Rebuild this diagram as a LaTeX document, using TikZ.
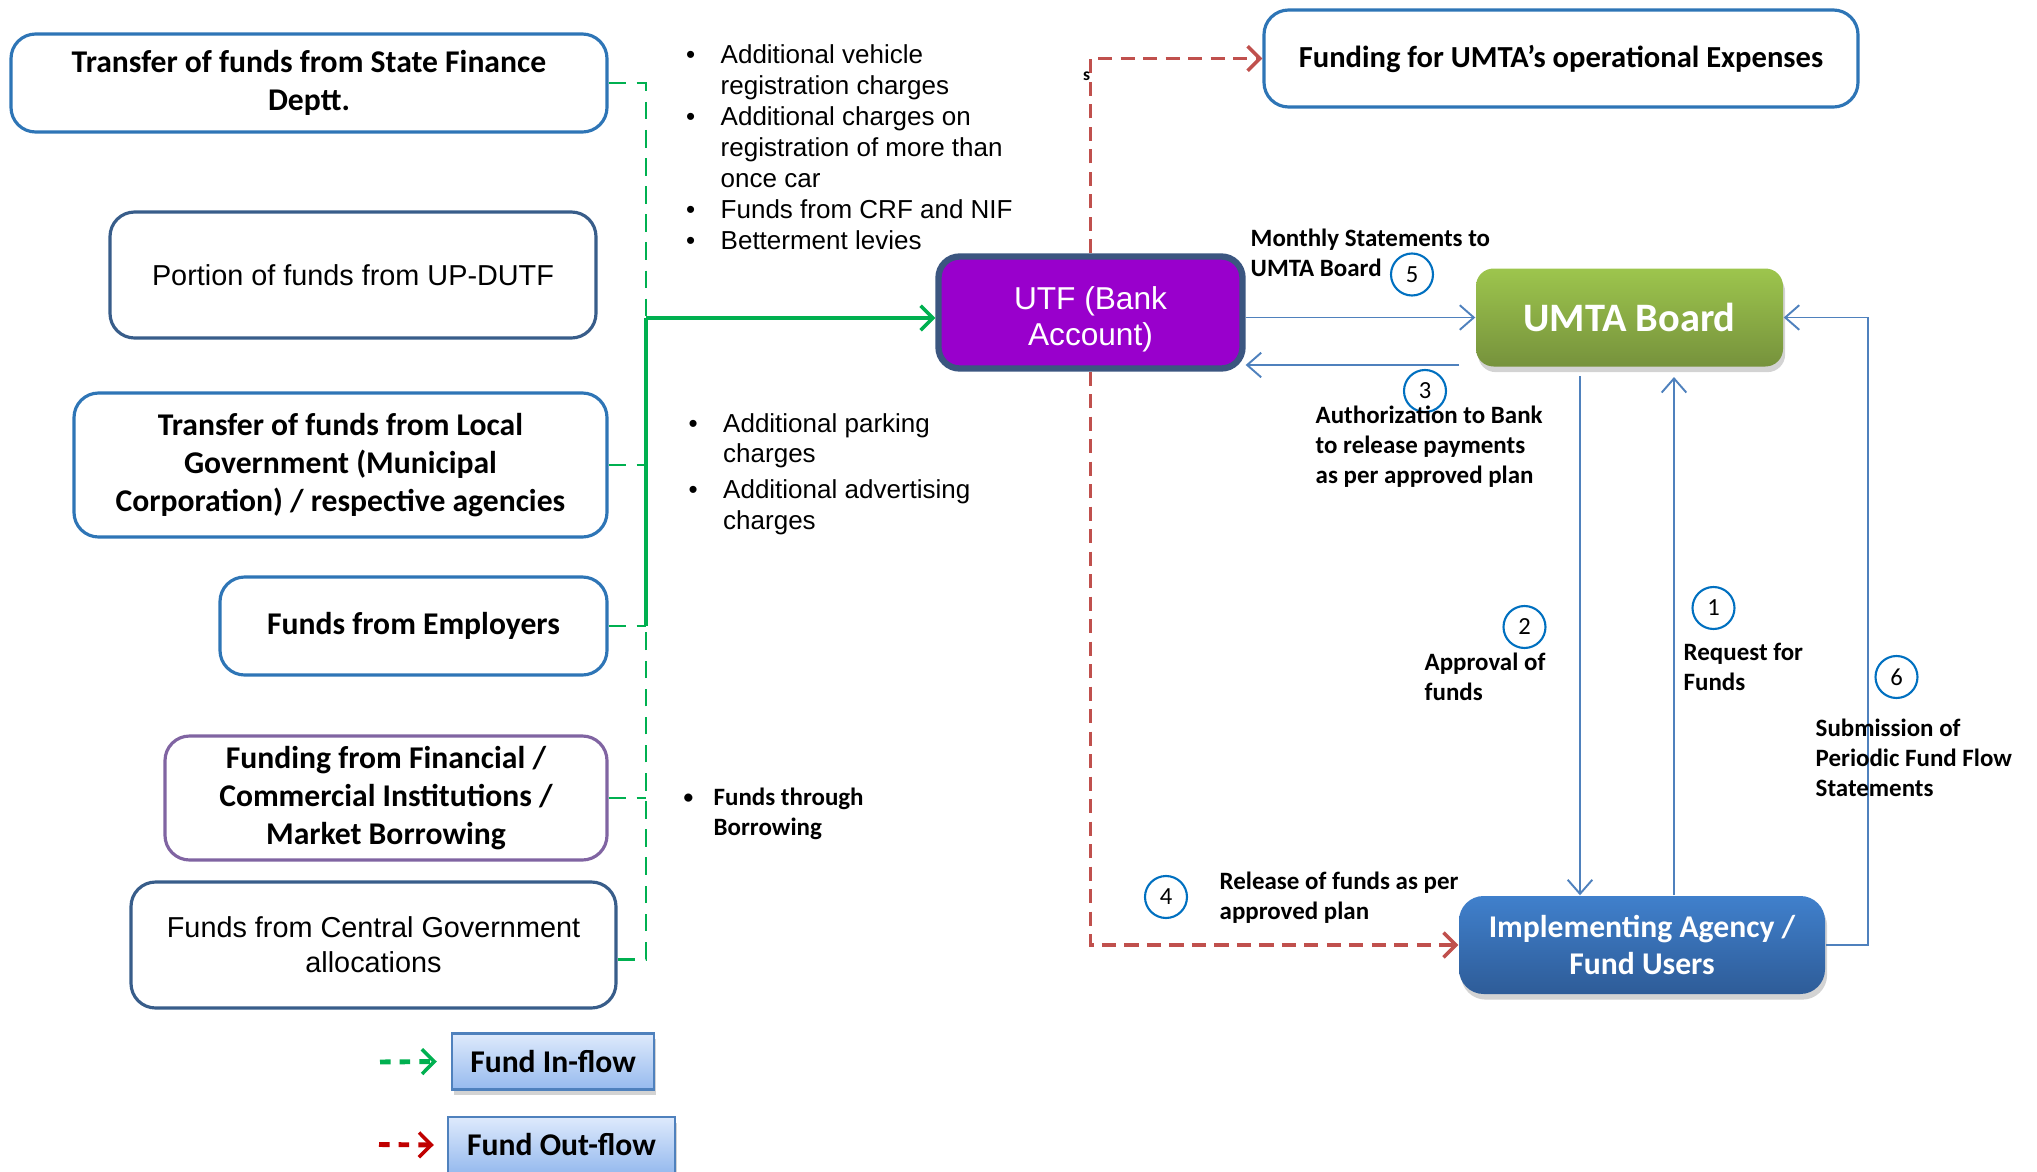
\documentclass[tikz,border=0pt]{standalone}
\usepackage{fontspec}
\setmainfont{Carlito}
\newfontfamily\arialfont{Liberation Sans}
\usetikzlibrary{arrows.meta, shadows}

\definecolor{boxblue}{RGB}{46,117,182}
\definecolor{navyline}{RGB}{56,93,138}
\definecolor{lilac}{RGB}{128,100,162}
\definecolor{utfpurple}{RGB}{153,0,204}
\definecolor{utfedge}{RGB}{59,86,128}
\definecolor{inflowgreen}{RGB}{0,176,80}
\definecolor{outflowred}{RGB}{192,80,77}
\definecolor{legendred}{RGB}{192,0,0}
\definecolor{linkblue}{RGB}{79,129,189}
\definecolor{ringblue}{RGB}{0,112,192}
\definecolor{boardtop}{RGB}{157,197,77}
\definecolor{boardbot}{RGB}{118,146,60}
\definecolor{agencytop}{RGB}{64,128,204}
\definecolor{agencybot}{RGB}{46,92,152}
\definecolor{keytop}{RGB}{222,234,252}
\definecolor{keybot}{RGB}{150,186,238}

\newcommand{\bul}[1][0.345cm]{\makebox[#1][l]{\textbullet}}
\newcommand{\smallbul}{\makebox[0.3cm][l]{\raisebox{0.5pt}{\fontsize{5.5}{6}\selectfont\textbullet}}}

\tikzset{
  source/.style={draw=boxblue, line width=0.9pt, rounded corners=7pt, fill=white, align=center, inner sep=1pt},
  boldtxt/.style={font=\fontsize{9}{10.9}\selectfont\bfseries},
  plaintxt/.style={font=\arialfont\fontsize{8.2}{10}\selectfont},
  inflow/.style={draw=inflowgreen, line width=0.85pt, dash pattern=on 5pt off 3pt},
  inflowsolid/.style={draw=inflowgreen, line width=0.9pt},
  outflow/.style={draw=outflowred, line width=0.9pt, dash pattern=on 4pt off 2.4pt},
  chevron/.style={-{Straight Barb[length=3.5pt, width=7pt, line width=1pt]}},
  link/.style={draw=linkblue, line width=0.55pt, -{Straight Barb[length=4pt, width=7pt]}},
  ring/.style={circle, draw=ringblue, line width=0.6pt, minimum size=0.42cm, inner sep=0pt, fill=white, font=\fontsize{7}{8}\selectfont},
  note/.style={anchor=west, align=left, inner sep=0pt, font=\fontsize{7.1}{8.5}\selectfont\bfseries},
  bullets/.style={anchor=west, align=left, inner sep=0pt, font=\arialfont\fontsize{7.4}{8.8}\selectfont},
  softshadow/.style={drop shadow={opacity=0.35, shadow xshift=0.6pt, shadow yshift=-1.6pt}},
  keybox/.style={draw=linkblue, line width=0.7pt, top color=keytop, bottom color=keybot, font=\fontsize{9}{11}\selectfont\bfseries, minimum height=0.56cm, inner sep=1pt, softshadow}
}

\begin{document}
\begin{tikzpicture}
        \useasboundingbox (0,0) rectangle (20.37,-11.72);
        % State finance box
        \node[source, boldtxt, minimum width=5.96cm, minimum height=0.98cm] (statefin) at (3.09,-0.83) {Transfer of funds from State Finance\\Deptt.};
        % UP-DUTF box
        \node[source, draw=navyline, plaintxt, minimum width=4.86cm, minimum height=1.26cm] (updutf) at (3.53,-2.75) {Portion of funds from UP-DUTF};
        % Local government box
        \node[source, boldtxt, minimum width=5.33cm, minimum height=1.44cm] (localgov) at (3.405,-4.65) {Transfer of funds from Local\\Government (Municipal\\Corporation) / respective agencies};
        % Employers box
        \node[source, boldtxt, minimum width=3.87cm, minimum height=0.98cm] (employers) at (4.135,-6.26) {Funds from Employers};
        % Borrowing box
        \node[source, draw=lilac, boldtxt, minimum width=4.42cm, minimum height=1.24cm] (borrow) at (3.86,-7.98) {Funding from Financial /\\Commercial Institutions /\\Market Borrowing};
        % Central government box
        \node[source, draw=navyline, plaintxt, minimum width=4.85cm, minimum height=1.26cm] (centralgov) at (3.735,-9.45) {Funds from Central Government\\allocations};

        % Bullet lists
        \node[bullets] (chargelist) at (6.855,-1.47) {\bul Additional vehicle\\ \hspace{0.345cm}registration charges\\ \bul Additional charges on\\ \hspace{0.345cm}registration of more than\\ \hspace{0.345cm}once car\\ \bul Funds from CRF and NIF\\ \bul Betterment levies};
        \node[bullets] (parklist) at (6.88,-4.74) {\bul Additional parking\\ \hspace{0.345cm}charges\\[1.3pt] \bul Additional advertising\\ \hspace{0.345cm}charges};
        \node[note] (borrowlist) at (6.83,-8.14) {\smallbul Funds through\\ \hspace{0.3cm}Borrowing};

        % UTF account
        \node[draw=utfedge, line width=1.8pt, fill=utfpurple, rounded corners=6pt, minimum width=3.04cm, minimum height=1.12cm,
              label={[yshift=-0.07cm, align=center, text=white, font=\arialfont\fontsize{9}{10.3}\selectfont]center:UTF (Bank\\Account)}] (utf) at (10.905,-3.125) {};
        % Operational expenses box
        \node[source, boldtxt, font=\fontsize{8.7}{10}\selectfont\bfseries, minimum width=5.94cm, minimum height=0.97cm] (opex) at (15.61,-0.585) {Funding for UMTA’s operational Expenses};
        % UMTA board
        \node[rounded corners=5pt, top color=boardtop, bottom color=boardbot, draw=none, minimum width=3.07cm, minimum height=0.98cm, text=white, font=\fontsize{11.5}{13}\selectfont\bfseries, softshadow] (umta) at (16.295,-3.175) {UMTA Board};
        % Implementing agency
        \node[rounded corners=7pt, top color=agencytop, bottom color=agencybot, draw=none, minimum width=3.66cm, minimum height=0.98cm, align=center, text=white, font=\fontsize{9}{10.6}\selectfont\bfseries, softshadow] (impl) at (16.42,-9.45) {Implementing Agency /\\Fund Users};

        % Green in-flow lines
        \coordinate (split) at (6.46,-3.18);
        \draw[inflow] (statefin.east) -| (split);
        \draw[inflowsolid] (split) -- (split |- employers.east);
        \draw[inflow] (localgov.east) -- (localgov.east -| split);
        \draw[inflow] (employers.east) -- (employers.east -| split);
        \draw[inflow] (borrow.east) -- (borrow.east -| split);
        \draw[inflow] ([yshift=-0.14cm]centralgov.east) -| (split |- employers.east);
        \draw[inflowsolid, chevron] (split) -- (split -| utf.west);

        % Red out-flow lines
        \draw[outflow, chevron] (utf.north) |- (opex.west);
        \draw[outflow, chevron] (utf.south) |- (impl.west);
        \node[inner sep=0pt, font=\fontsize{5}{6}\selectfont\bfseries] (strays) at (10.865,-0.76) {s};

        % Blue links
        \coordinate (authstart) at (14.59,-3.65);
        \coordinate (apptop) at (15.80,-3.76);
        \coordinate (reqtop) at (16.74,-3.77);
        \draw[link] (utf.east |- umta.west) -- (umta.west);
        \draw[link] (authstart) -- (authstart -| utf.east);
        \draw[link] (apptop) -- (apptop |- impl.north);
        \draw[link] (reqtop |- impl.north) -- (reqtop);
        \draw[link] (impl.east) -- ++(0.42,0) |- (umta.east);

        % Step numbers
        \node[ring] (ring5) at (14.12,-2.745) {5};
        \node[ring] (ring3) at (14.25,-3.91) {3};
        \node[ring] (ring2) at (15.245,-6.27) {2};
        \node[ring] (ring1) at (17.135,-6.08) {1};
        \node[ring] (ring6) at (18.965,-6.77) {6};
        \node[ring] (ring4) at (11.66,-8.97) {4};

        % Link labels
        \node[note] (monthly) at (12.50,-2.53) {Monthly Statements to\\UMTA Board};
        \node[note] (authorize) at (13.15,-4.465) {Authorization to Bank\\to release payments\\as per approved plan};
        \node[note] (approval) at (14.24,-6.77) {Approval of\\funds};
        \node[note] (request) at (16.83,-6.67) {Request for\\Funds};
        \node[note] (submission) at (18.15,-7.58) {Submission of\\Periodic Fund Flow\\Statements};
        \node[note] (release) at (12.19,-8.98) {Release of funds as per\\approved plan};

        % Legend
        \node[keybox, minimum width=2.02cm] (inkey) at (5.53,-10.615) {Fund In-flow};
        \node[keybox, minimum width=2.27cm] (outkey) at (5.615,-11.45) {Fund Out-flow};
        \coordinate (intail) at (3.80,-10.62);
        \coordinate (outtail) at (3.79,-11.445);
        \draw[inflow, line width=1.4pt, dash pattern=on 3pt off 2.6pt, chevron] (intail) -- ([xshift=-0.14cm]inkey.west);
        \draw[draw=legendred, line width=1.4pt, dash pattern=on 3pt off 2.6pt, chevron] (outtail) -- ([xshift=-0.13cm]outkey.west);
    \end{tikzpicture}
\end{document}
